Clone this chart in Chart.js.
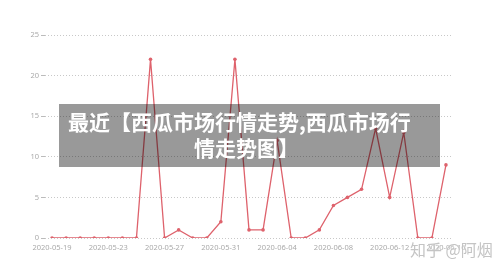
<!DOCTYPE html>
<html>
<head>
<meta charset="utf-8">
<script src="https://cdn.jsdelivr.net/npm/chart.js@4/dist/chart.umd.min.js"></script>
<style>
  html, body { margin: 0; padding: 0; background: #fff; }
  #wrap { position: relative; width: 500px; height: 272px; overflow: hidden; }
  canvas { position: absolute; left: 0; top: 0; }
  #banner { position: absolute; left: 59px; top: 104px; width: 381px; height: 63px; background: rgba(0,0,0,0.4); }
  .bt { position: absolute; color: #fff; font-family: "Noto Sans CJK SC", sans-serif; font-weight: bold; font-size: 21px; line-height: 26px; white-space: nowrap; }
  #wm { position: absolute; left: 410px; top: 240px; font-family: "Noto Sans CJK SC", sans-serif; font-size: 16px; line-height: 18px; color: rgba(190,190,190,0.9); text-shadow: 0 0 2px #fff; white-space: nowrap; }
</style>
</head>
<body>
<div id="wrap">
  <canvas id="c" width="500" height="272"></canvas>
  <div id="banner"></div>
  <div class="bt" style="left:68px; top:108px;">最近【西瓜市场行情走势,西瓜市场行</div>
  <div class="bt" style="left:194px; top:134px;">情走势图】</div>
  <div id="wm">知乎 @阿烟</div>
</div>
<script>
const categories = [
  "2020-05-19","2020-05-20","2020-05-21","2020-05-22","2020-05-23","2020-05-24","2020-05-25",
  "2020-05-26","2020-05-27","2020-05-28","2020-05-29","2020-05-30","2020-05-31",
  "2020-06-01","2020-06-02","2020-06-03","2020-06-04","2020-06-05","2020-06-06","2020-06-07",
  "2020-06-08","2020-06-09","2020-06-10","2020-06-11","2020-06-12","2020-06-13","2020-06-14",
  "2020-06-15","2020-06-16"
];
const values = [
  0, 0, 0, 0, 0, 0, 0,
  22, 0, 1, 0, 0, 2,
  22, 1, 1, 12, 0, 0, 1,
  4, 5, 6, 13.5, 5, 13, 0,
  0, 9
];
const yTicks = [0, 5, 10, 15, 20, 25];

const lineColor = "rgb(222,98,108)";
new Chart(document.getElementById("c"), {
  type: "line",
  data: {
    labels: categories,
    datasets: [{
      data: values,
      borderColor: lineColor,
      backgroundColor: lineColor,
      borderWidth: 1.3,
      pointRadius: 1.8,
      pointBorderWidth: 0,
      pointBackgroundColor: lineColor,
      tension: 0,
      fill: false
    }]
  },
  options: {
    responsive: false,
    animation: false,
    devicePixelRatio: 1,
    layout: { padding: { left: 0, right: 47, top: 35, bottom: 14 } },
    plugins: { legend: { display: false }, tooltip: { enabled: false } },
    scales: {
      x: {
        offset: true,
        grid: { display: false, drawTicks: false },
        border: { display: false },
        afterFit: (s) => { s.height = 20; },
        ticks: {
          autoSkip: false,
          maxRotation: 0,
          padding: 5,
          color: "#aaa",
          font: { family: "Noto Sans", size: 7.5 },
          callback: function (v, i) { return i % 4 === 0 ? categories[i] : ""; }
        }
      },
      y: {
        min: 0,
        max: 25,
        afterFit: (s) => { s.width = 45; },
        afterBuildTicks: (s) => { s.ticks = yTicks.map(v => ({ value: v })); },
        grid: {
          color: "#c8c8c8",
          lineWidth: 1,
          drawTicks: true,
          tickLength: 4,
          tickColor: "#bbb",
          tickBorderDash: []
        },
        border: { display: false, dash: [1, 2] },
        ticks: {
          padding: 2,
          color: "#aaa",
          font: { family: "Noto Sans", size: 7.5 }
        }
      }
    }
  }
});
</script>
</body>
</html>
